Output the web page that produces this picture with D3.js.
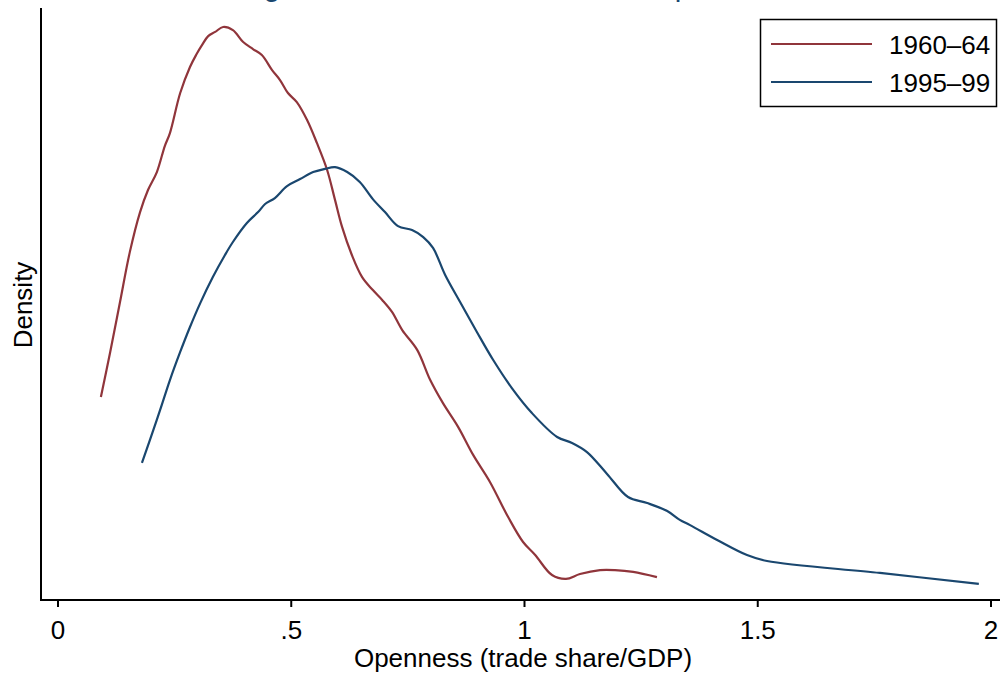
<!DOCTYPE html>
<html>
<head>
<meta charset="utf-8">
<script src="https://cdn.jsdelivr.net/npm/d3@7"></script>
<style>
  body { margin: 0; background: #fff; }
  svg { display: block; font-family: "Liberation Sans", Arial, sans-serif; }
</style>
</head>
<body>
<div id="chart"></div>
<script>
// kernel density of openness
var openness6064 = [0.093,0.113,0.134,0.155,0.177,0.194,0.213,0.230,0.241,0.263,0.284,0.297,0.310,0.323,0.338,0.355,0.376,0.398,0.419,0.438,0.460,0.477,0.494,0.513,0.535,0.556,0.578,0.595,0.610,0.631,0.653,0.676,0.696,0.717,0.739,0.771,0.799,0.826,0.859,0.891,0.927,0.966,0.998,1.024,1.060,1.090,1.120,1.163,1.195,1.234,1.285];
var density6064  = [0.781,0.954,1.146,1.338,1.492,1.577,1.646,1.746,1.796,1.950,2.050,2.096,2.135,2.169,2.185,2.204,2.192,2.146,2.119,2.096,2.038,2.000,1.950,1.915,1.846,1.758,1.654,1.538,1.435,1.327,1.242,1.192,1.154,1.108,1.038,0.962,0.846,0.758,0.665,0.558,0.454,0.319,0.223,0.173,0.096,0.081,0.100,0.115,0.115,0.108,0.088];

var openness9599 = [0.181,0.198,0.220,0.241,0.263,0.284,0.306,0.333,0.359,0.376,0.406,0.430,0.445,0.466,0.492,0.520,0.548,0.573,0.595,0.621,0.648,0.676,0.702,0.730,0.760,0.784,0.805,0.831,0.863,0.899,0.934,0.974,1.017,1.071,1.103,1.135,1.178,1.223,1.264,1.307,1.334,1.356,1.414,1.478,1.521,1.763,1.975];
var density9599  = [0.527,0.615,0.731,0.846,0.954,1.050,1.142,1.242,1.327,1.377,1.450,1.492,1.523,1.546,1.592,1.619,1.646,1.658,1.665,1.646,1.608,1.542,1.492,1.438,1.423,1.396,1.354,1.250,1.146,1.031,0.923,0.815,0.719,0.627,0.604,0.569,0.485,0.396,0.373,0.342,0.308,0.288,0.231,0.173,0.150,0.104,0.062];

var seriesNames = ["1960\u201364", "1995\u201399"];
var seriesColors = ["#90353b", "#1a476f"];
var xTicks = [0, 0.5, 1, 1.5, 2];
var xTickLabels = ["0", ".5", "1", "1.5", "2"];

var width = 1000, height = 677;
var fs = 26;

var svg = d3.select("#chart").append("svg")
    .attr("width", width)
    .attr("height", height);

var x = d3.scaleLinear().domain([0, 2]).range([57.5, 990.5]);
var y = d3.scaleLinear().domain([0, 2.277]).range([600, 8]);

// title (mostly off the top of the picture)
var title = svg.append("text")
    .attr("y", -4)
    .style("font-size", "30px")
    .style("fill", "#1a476f")
    .text("Changes in the distribution of trade openness");
// put the g under x=272 and the p under x=679
(function() {
    var node = title.node(), s = node.textContent;
    var gi = s.indexOf("g"), pi = s.indexOf("p");
    var g0 = node.getExtentOfChar(gi), p0 = node.getExtentOfChar(pi);
    var gc = g0.x + g0.width / 2, pc = p0.x + p0.width * 0.25;
    var k = (679 - 272) / (pc - gc);
    title.style("font-size", (30 * k) + "px");
    var g1 = node.getExtentOfChar(gi);
    title.attr("x", 272 - (g1.x + g1.width / 2));
})();

// axes
var xAxis = svg.append("g")
    .attr("transform", "translate(0,600)")
    .call(d3.axisBottom(x).tickValues(xTicks)
        .tickFormat(function(d, i) { return xTickLabels[i]; })
        .tickSize(7).tickPadding(14));
xAxis.select(".domain").remove();
xAxis.selectAll(".tick line").attr("stroke", "#000").attr("stroke-width", 2);
xAxis.selectAll(".tick text")
    .style("font-size", fs + "px")
    .style("font-family", "Liberation Sans, Arial, sans-serif")
    .attr("fill", "#000");

svg.append("line")
    .attr("x1", 41).attr("x2", 1000)
    .attr("y1", 600).attr("y2", 600)
    .attr("stroke", "#000").attr("stroke-width", 2);
svg.append("line")
    .attr("x1", 41).attr("x2", 41)
    .attr("y1", 8).attr("y2", 601)
    .attr("stroke", "#000").attr("stroke-width", 2);

svg.append("text")
    .attr("x", 523).attr("y", 667)
    .attr("text-anchor", "middle")
    .style("font-size", fs + "px")
    .text("Openness (trade share/GDP)");

svg.append("text")
    .attr("transform", "translate(32,305) rotate(-90)")
    .attr("text-anchor", "middle")
    .style("font-size", fs + "px")
    .text("Density");

// density lines
var line = d3.line()
    .x(function(d) { return x(d[0]); })
    .y(function(d) { return y(d[1]); })
    .curve(d3.curveCatmullRom.alpha(0.5));

var series = [
    d3.zip(openness6064, density6064),
    d3.zip(openness9599, density9599)
];

svg.selectAll(".kd")
    .data(series)
    .enter()
    .append("path")
    .attr("class", "kd")
    .attr("d", line)
    .attr("fill", "none")
    .attr("stroke", function(d, i) { return seriesColors[i]; })
    .attr("stroke-width", 2.2)
    .attr("stroke-linejoin", "round");

// legend
var legend = svg.append("g");
legend.append("rect")
    .attr("x", 760.5).attr("y", 19.5)
    .attr("width", 236).attr("height", 87)
    .attr("fill", "#fff")
    .attr("stroke", "#000").attr("stroke-width", 1.5);

var items = legend.selectAll(".item")
    .data(seriesNames)
    .enter()
    .append("g")
    .attr("transform", function(d, i) { return "translate(0," + (44 + i * 38) + ")"; });
items.append("line")
    .attr("x1", 771).attr("x2", 872)
    .attr("stroke", function(d, i) { return seriesColors[i]; })
    .attr("stroke-width", 2.2);
items.append("text")
    .attr("x", 889).attr("y", 10)
    .style("font-size", fs + "px")
    .text(function(d) { return d; });
</script>
</body>
</html>
